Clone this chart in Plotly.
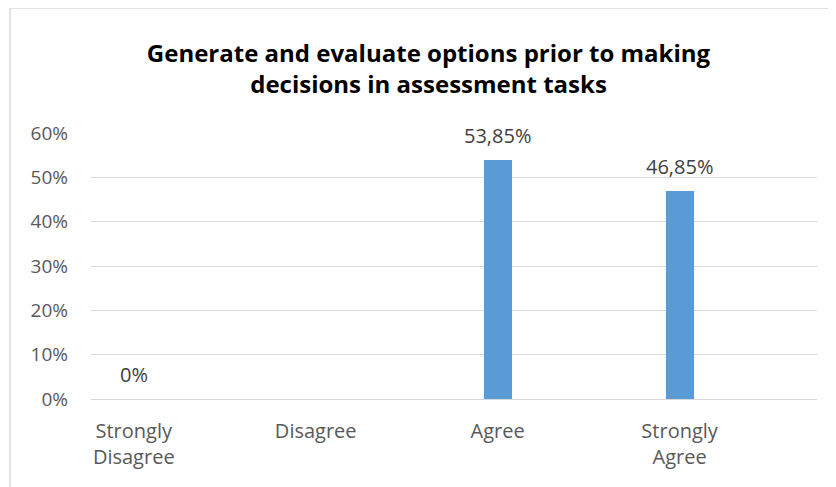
import plotly.graph_objects as go

categories = ["Strongly<br>Disagree", "Disagree", "Agree", "Strongly<br>Agree"]
values = [0.0, None, 0.5385, 0.4685]
labels = ["0%", "", "53,85%", "46,85%"]
y_ticks = [0, 0.1, 0.2, 0.3, 0.4, 0.5, 0.6]
y_ticktext = ["0%", "10%", "20%", "30%", "40%", "50%", "60%"]

FONT = "Open Sans"
BAR = "#5B9BD5"
GRID = "#D9D9D9"
TXT = "#595959"

fig = go.Figure()
fig.add_trace(go.Bar(
    x=categories, y=values, marker_color=BAR, marker_line_width=0, width=0.155,
    hoverinfo="skip", showlegend=False,
))
for c, v, t in zip(categories, values, labels):
    if t:
        fig.add_annotation(x=c, y=v if v is not None else 0, text=t, showarrow=False,
                           yshift=25, font=dict(family=FONT, size=20, color="#404040"))

fig.add_shape(type="rect", xref="paper", yref="paper", x0=-0.1116, x1=1.2, y0=-0.6, y1=1.47,
              line=dict(color=GRID, width=1.5), fillcolor="rgba(0,0,0,0)", layer="below")

fig.update_layout(
    width=836, height=487,
    margin=dict(l=83, r=27, t=125, b=96),
    paper_bgcolor="white", plot_bgcolor="white",
    title=dict(text="Generate and evaluate options prior to making<br>decisions in assessment tasks",
               x=0.503, xanchor="center", y=0.889, yanchor="middle",
               font=dict(family=FONT, size=24, color="black", weight="bold")),
    bargap=0,
    xaxis=dict(type="category", range=[-0.235, 3.755], showgrid=False, zeroline=False,
               showline=False, ticks="", ticklabelstandoff=18,
               tickfont=dict(family=FONT, size=20, color=TXT)),
    yaxis=dict(range=[0, 0.6], tickvals=y_ticks, ticktext=y_ticktext,
               showgrid=True, gridcolor=GRID, gridwidth=1.3, zeroline=True,
               zerolinecolor=GRID, zerolinewidth=1.3, showline=False, ticks="",
               ticklabelstandoff=22, tickfont=dict(family=FONT, size=19, color=TXT)),
)

fig.write_html("out.html")
